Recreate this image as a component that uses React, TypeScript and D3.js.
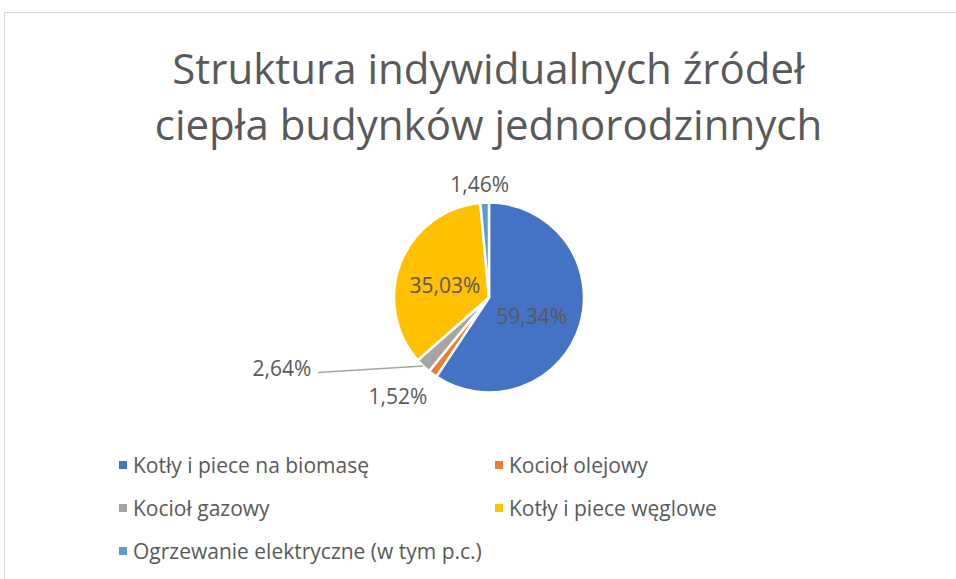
import React from "react";
import * as d3 from "d3";

const categories = [
  "Kotły i piece na biomasę",
  "Kocioł olejowy",
  "Kocioł gazowy",
  "Kotły i piece węglowe",
  "Ogrzewanie elektryczne (w tym p.c.)",
];
const shares = [59.34, 1.52, 2.64, 35.03, 1.46];
const colors = ["#4472C4", "#ED7D31", "#A5A5A5", "#FFC000", "#5B9BD5"];
const titleLines = ["Struktura indywidualnych źródeł", "ciepła budynków jednorodzinnych"];

const W = 956;
const H = 579;
const FONT = "'Open Sans', 'DejaVu Sans', sans-serif";
const TEXT = "#595959";

const cx = 489;
const cy = 297.5;
const R = 95;

const fmt = (v: number) => v.toFixed(2).replace(".", ",") + "%";

export default function App() {
  const pie = d3.pie<number>().sort(null).value((d) => d);
  const arcs = pie(shares);
  const arc = d3.arc<d3.PieArcDatum<number>>().innerRadius(0).outerRadius(R);
  const mid = (a: d3.PieArcDatum<number>) => (a.startAngle + a.endAngle) / 2;
  const polar = (ang: number, r: number): [number, number] => [Math.sin(ang) * r, -Math.cos(ang) * r];

  // label placement per slice: big ones inside, small ones outside
  const labelPos = (a: d3.PieArcDatum<number>, i: number): [number, number] => {
    const m = mid(a);
    if (i === 0) return [polar(m, R * 0.47)[0], polar(m, R * 0.47)[1] + 6];
    if (i === 3) return [polar(m, R * 0.5)[0], polar(m, R * 0.5)[1] + 5];
    if (i === 4) return [polar(m, R * 1.2)[0] - 4, polar(m, R * 1.2)[1]];
    if (i === 1) return [polar(m, R * 1.1)[0] - 29, polar(m, R * 1.1)[1] + 14];
    return [-207, 70];
  };

  const legendX = [122, 498];
  const legendY = d3.scalePoint<number>().domain([0, 1, 2]).range([465, 551]);

  return (
    <svg width={W} height={H} style={{ position: "absolute", left: 0, top: 0 }} fontFamily={FONT}>
      <rect width={W} height={H} fill="#fff" />
      <rect x={4.5} y={12.5} width={W + 20} height={H + 20} fill="#fff" stroke="#D9D9D9" />
      <g fill={TEXT} fontSize={42} textAnchor="middle">
        {titleLines.map((t, i) => (
          <text key={i} x={488.5} y={84 + i * 56}>
            {t}
          </text>
        ))}
      </g>
      <g transform={`translate(${cx},${cy})`}>
        {arcs.map((a, i) => (
          <path key={i} d={arc(a) || ""} fill={colors[i]} stroke="#fff" strokeWidth={2.5} strokeLinejoin="round" />
        ))}
        {(() => {
          const a = arcs[2];
          const [ex, ey] = polar(mid(a), R);
          const [lx, ly] = labelPos(a, 2);
          return (
            <polyline points={`${lx + 36},${ly + 5} ${ex},${ey}`} fill="none" stroke="#A6A6A6" strokeWidth={1.5} />
          );
        })()}
        <g fill={TEXT} fontSize={21} textAnchor="middle" dominantBaseline="central">
          {arcs.map((a, i) => {
            const [x, y] = labelPos(a, i);
            return (
              <text key={i} x={x} y={y}>
                {fmt(shares[i])}
              </text>
            );
          })}
        </g>
      </g>
      <g fontSize={21} fill={TEXT}>
        {categories.map((c, i) => {
          const x = legendX[i % 2];
          const y = legendY(Math.floor(i / 2)) as number;
          return (
            <g key={i}>
              <rect x={x - 3} y={y - 4} width={8} height={8} fill={colors[i]} />
              <text x={x + 11} y={y} dominantBaseline="central">
                {c}
              </text>
            </g>
          );
        })}
      </g>
    </svg>
  );
}
